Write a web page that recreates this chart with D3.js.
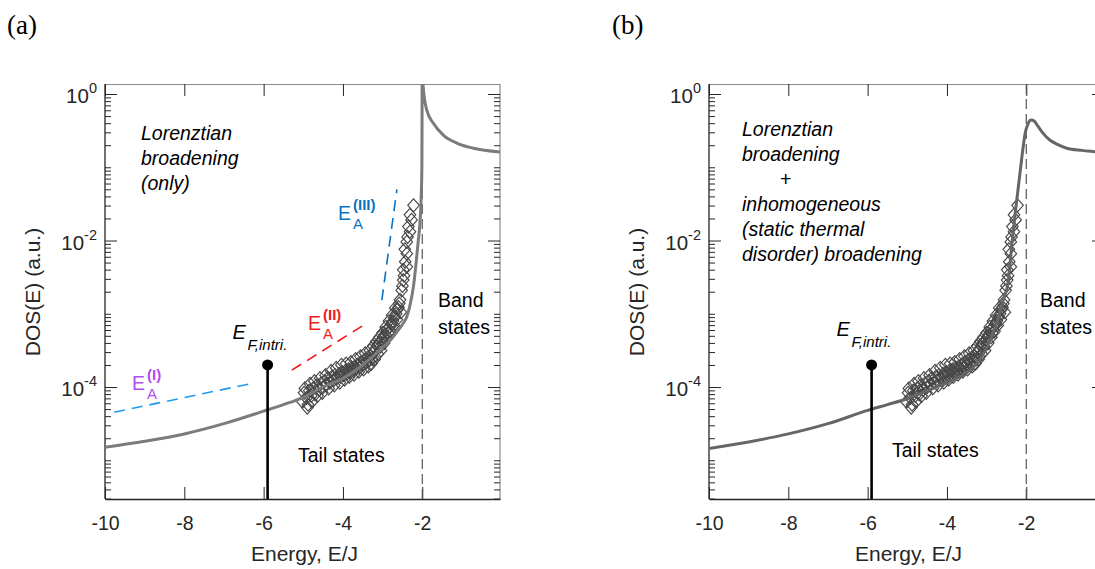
<!DOCTYPE html>
<html><head><meta charset="utf-8">
<script src="https://cdn.jsdelivr.net/npm/d3@7"></script>
<style>
body{margin:0;background:#fff;}
svg{display:block;font-family:"Liberation Sans",Arial,sans-serif;}
</style></head>
<body>
<svg id="c" width="1095" height="569"></svg>
<script>
// ---------------- data ----------------
const xTicks = [-10, -8, -6, -4, -2];
const xTickLabels = ["-10", "-8", "-6", "-4", "-2"];
const yMajorTicks = [1, 1e-2, 1e-4];
const yMajorLabels = ["0", "-2", "-4"];

// Panel (a): Lorentzian-only DOS curve
const curveA_E   = [-10, -9, -8, -7, -6, -5.5, -5, -4.5, -4, -3.5, -3, -2.8, -2.6, -2.48, -2.39, -2.3, -2.22, -2.14, -2.1, -2.06, -2.03, -2.01, -2.0,
                    -1.998, -1.97, -1.886, -1.72, -1.47, -1.13, -0.71, -0.04];
const curveA_DOS = [1.51e-5, 1.82e-5, 2.29e-5, 3.16e-5, 4.68e-5, 5.75e-5, 7.24e-5, 1.0e-4, 1.32e-4, 2.0e-4, 3.47e-4, 4.37e-4, 6.03e-4, 7.41e-4, 9.12e-4, 1.38e-3, 2.40e-3, 6.03e-3, 1.0e-2, 1.70e-2, 3.55e-2, 0.1, 3.16,
                    2.0, 1.135, 0.603, 0.398, 0.275, 0.214, 0.182, 0.162];

// Panel (b): Lorentzian + inhomogeneous broadening
const curveB_E   = [-10, -9, -8, -7, -6, -5.5, -5, -4.5, -4, -3.5, -3.25, -2.91, -2.75, -2.58, -2.45, -2.37, -2.28, -2.20, -2.11, -2.03, -1.95, -1.88, -1.80, -1.73, -1.60, -1.40, -1.20, -0.98, -0.6, -0.22, -0.04];
const curveB_DOS = [1.45e-5, 1.78e-5, 2.29e-5, 3.16e-5, 4.79e-5, 5.75e-5, 6.92e-5, 8.91e-5, 1.15e-4, 1.58e-4, 2.09e-4, 4.37e-4, 7.41e-4, 1.55e-3, 2.88e-3, 8.13e-3, 2.34e-2, 5.37e-2, 0.138, 0.288, 0.398, 0.442, 0.427, 0.380, 0.302, 0.234, 0.204, 0.182, 0.170, 0.162, 0.158];

// Simulated data points (diamonds), same in both panels
const pts_E = [-5.02, -4.98, -4.92, -4.88, -4.85, -4.80, -4.75, -4.70, -4.66, -4.60, -4.55, -4.50, -4.46, -4.42, -4.38, -4.33, -4.28, -4.24, -4.20, -4.15,
               -4.10, -4.06, -4.02, -3.98, -3.94, -3.90, -3.86, -3.82, -3.78, -3.74, -3.70, -3.66, -3.62, -3.58, -3.54, -3.50, -3.46, -3.42, -3.38, -3.34,
               -3.30, -3.26, -3.22, -3.18, -3.14, -3.10, -3.06, -3.02, -2.98, -2.94, -2.90, -2.86, -2.82, -2.78, -2.74, -2.70, -2.66, -2.62, -2.60, -2.56,
               -2.52, -2.48, -2.48, -2.39, -2.43, -2.39, -2.39, -2.31, -2.35, -2.27, -2.31, -2.22,
               -4.96, -4.90, -4.83, -4.78, -4.72, -4.64, -4.58, -4.52, -4.44, -4.36, -4.30, -4.22, -4.17, -4.08, -4.04, -3.96, -3.92, -3.84, -3.80, -3.72,
               -3.68, -3.60, -3.56, -3.48, -3.44, -3.36, -3.32, -3.28, -3.24, -3.20, -3.16, -3.12, -3.08, -3.04, -3.00, -2.96, -2.92, -2.88, -2.84, -2.80,
               -2.76, -2.72, -2.68, -2.64, -2.58, -2.54, -2.50, -2.46, -2.44, -2.37];
const pts_DOS = [6.31e-5, 8.32e-5, 7.08e-5, 5.75e-5, 8.91e-5, 7.59e-5, 9.55e-5, 7.94e-5, 1.05e-4, 9.12e-5, 1.12e-4, 1.00e-4, 1.20e-4, 1.07e-4, 1.32e-4, 1.15e-4, 1.38e-4, 1.23e-4, 1.45e-4, 1.32e-4,
                 1.51e-4, 1.38e-4, 1.58e-4, 1.45e-4, 1.66e-4, 1.51e-4, 1.74e-4, 1.58e-4, 1.82e-4, 1.66e-4, 1.91e-4, 1.78e-4, 2.04e-4, 1.86e-4, 2.19e-4, 2.00e-4, 2.34e-4, 2.14e-4, 2.51e-4, 2.29e-4,
                 2.63e-4, 2.40e-4, 3.02e-4, 3.31e-4, 3.63e-4, 3.98e-4, 3.55e-4, 4.37e-4, 4.79e-4, 5.25e-4, 6.03e-4, 5.50e-4, 6.61e-4, 7.24e-4, 7.94e-4, 8.91e-4, 1.00e-3, 1.15e-3, 1.23e-3, 1.55e-3,
                 2.09e-3, 2.88e-3, 3.98e-3, 4.37e-3, 5.13e-3, 6.61e-3, 9.55e-3, 1.32e-2, 1.55e-2, 1.91e-2, 2.24e-2, 3.02e-2,
                 9.55e-5, 5.25e-5, 1.10e-4, 6.31e-5, 1.20e-4, 7.59e-5, 1.32e-4, 8.32e-5, 1.45e-4, 9.55e-5, 1.66e-4, 1.05e-4, 1.82e-4, 1.15e-4, 2.00e-4, 1.26e-4, 2.09e-4, 1.38e-4, 2.19e-4, 1.48e-4,
                 2.40e-4, 1.62e-4, 2.63e-4, 1.74e-4, 2.88e-4, 1.91e-4, 3.16e-4, 2.09e-4, 3.63e-4, 2.40e-4, 4.17e-4, 2.82e-4, 4.79e-4, 3.16e-4, 5.50e-4, 3.98e-4, 6.61e-4, 4.79e-4, 7.94e-4, 5.75e-4,
                 9.55e-4, 6.92e-4, 1.20e-3, 8.32e-4, 1.38e-3, 1.05e-3, 2.40e-3, 3.31e-3, 7.59e-3, 1.12e-2];

// Fermi level marker
const EF_E = -5.9, EF_DOS = 2.0e-4;
const bandEdgeE = -2;

// Activation-energy fit lines in panel (a)
const fitI_E = [-9.77, -6.29],  fitI_DOS = [4.53e-5, 1.12e-4];
const fitII_E = [-5.29, -3.44], fitII_DOS = [1.70e-4, 7.21e-4];
const fitIII_E = [-3.02, -2.64], fitIII_DOS = [1.53e-3, 4.99e-2];

// ---------------- drawing ----------------
const svg = d3.select("#c");
svg.append("rect").attr("width",1095).attr("height",569).attr("fill","#fff");

const yTop = 84, yBot = 499;
const y = d3.scaleLog().domain([2.96e-6, 1.37]).range([yBot, yTop]);
const minorTicks = [];
for (let n = -6; n <= 0; n++) for (let k = 1; k <= 9; k++) {
  const v = k * Math.pow(10, n);
  if (v >= y.domain()[0] && v <= y.domain()[1] && !yMajorTicks.some(m => Math.abs(m - v) / v < 1e-9)) minorTicks.push(v);
}

function drawPanel(cfg) {
  const x = d3.scaleLinear().domain([-10, -0.04]).range([cfg.left, cfg.left + 395]);
  const g = svg.append("g");
  const cid = "clip" + cfg.id;
  svg.append("clipPath").attr("id", cid).append("rect")
    .attr("x", x.range()[0]).attr("y", yTop).attr("width", 395).attr("height", yBot - yTop);

  g.append("line").attr("x1", x.range()[0]).attr("x2", x.range()[1]).attr("y1", yTop + 0.5).attr("y2", yTop + 0.5).attr("stroke", "#8a8a8a").attr("stroke-width", 1.2);
  g.append("line").attr("x1", x.range()[1]).attr("x2", x.range()[1]).attr("y1", yTop).attr("y2", yBot).attr("stroke", "#8a8a8a").attr("stroke-width", 1.2);

  const topAx = g.append("g").attr("transform", `translate(0,${yTop})`)
    .call(d3.axisTop(x).tickValues(xTicks).tickSizeInner(-12).tickSizeOuter(0).tickFormat(""));
  topAx.select(".domain").remove();
  const rightAx = g.append("g").attr("transform", `translate(${x.range()[1]},0)`);
  rightAx.call(d3.axisRight(y).tickValues(yMajorTicks).tickSizeInner(-12).tickSizeOuter(0).tickFormat(""));
  rightAx.append("g").call(d3.axisRight(y).tickValues(minorTicks).tickSizeInner(-6).tickSizeOuter(0).tickFormat(""));
  rightAx.selectAll(".domain").remove();

  const bAx = g.append("g").attr("transform", `translate(0,${yBot})`)
    .call(d3.axisBottom(x).tickValues(xTicks).tickSizeInner(-12).tickSizeOuter(0).tickPadding(17)
      .tickFormat((d, i) => xTickLabels[i]));
  bAx.selectAll("text").attr("font-size", 19.5).attr("fill", "#262626").attr("font-family", "Liberation Sans, Arial");
  bAx.select(".domain").attr("stroke", "#262626").attr("stroke-width", 1.3);

  const lAx = g.append("g").attr("transform", `translate(${x.range()[0]},0)`);
  lAx.call(d3.axisLeft(y).tickValues(yMajorTicks).tickSizeInner(-12).tickSizeOuter(0).tickFormat(""));
  lAx.append("g").call(d3.axisLeft(y).tickValues(minorTicks).tickSizeInner(-6).tickSizeOuter(0).tickFormat(""));
  lAx.selectAll(".domain").remove();
  lAx.append("line").attr("y1", yTop).attr("y2", yBot).attr("stroke", "#262626").attr("stroke-width", 1.3);
  g.selectAll(".tick line").attr("stroke", "#262626");

  yMajorTicks.forEach((v, i) => {
    const t = g.append("text").attr("x", x.range()[0] - 8).attr("y", y(v) + 9)
      .attr("text-anchor", "end").attr("font-size", 20.5).attr("fill", "#262626");
    t.append("tspan").text("10");
    t.append("tspan").attr("dy", -10).attr("font-size", 14.5).text(yMajorLabels[i]);
  });

  g.append("text").attr("x", (x.range()[0] + x.range()[1]) / 2 + 2).attr("y", 561)
    .attr("text-anchor", "middle").attr("font-size", 21).attr("fill", "#262626").text("Energy, E/J");
  g.append("text").attr("transform", `translate(${x.range()[0] - 65},292) rotate(-90)`)
    .attr("text-anchor", "middle").attr("font-size", 21).attr("fill", "#262626").text("DOS(E) (a.u.)");

  svg.append("text").attr("x", cfg.labelX).attr("y", 34).attr("font-family", "Liberation Serif, Times New Roman, serif")
    .attr("font-size", 27).attr("fill", "#000").text(cfg.label);

  const plot = g.append("g").attr("clip-path", `url(#${cid})`);

  plot.append("line").attr("x1", x(bandEdgeE)).attr("x2", x(bandEdgeE)).attr("y1", yTop).attr("y2", yBot)
    .attr("stroke", "#555").attr("stroke-width", 1.2).attr("stroke-dasharray", "10,5");

  (cfg.fits || []).forEach(f => {
    plot.append("line").attr("x1", x(f.E[0])).attr("x2", x(f.E[1])).attr("y1", y(f.D[0])).attr("y2", y(f.D[1]))
      .attr("stroke", f.color).attr("stroke-width", 1.6).attr("stroke-dasharray", "11,7");
  });

  plot.append("g").selectAll("path").data(pts_E.map((e, i) => [e, pts_DOS[i]])).join("path")
    .attr("transform", d => `translate(${x(d[0])},${y(d[1])})`)
    .attr("d", "M0,-6.5L5.8,0L0,6.5L-5.8,0Z")
    .attr("fill", "none").attr("stroke", "#474747").attr("stroke-width", 1.15);

  const line = d3.line().x(d => x(d[0])).y(d => y(d[1])).curve(d3.curveMonotoneX);
  plot.append("path").datum(cfg.cE.map((e, i) => [e, cfg.cD[i]]))
    .attr("d", line).attr("fill", "none").attr("stroke", cfg.curveColor).attr("stroke-width", 3);

  plot.append("line").attr("x1", x(EF_E)).attr("x2", x(EF_E)).attr("y1", y(EF_DOS)).attr("y2", yBot)
    .attr("stroke", "#000").attr("stroke-width", 2.6);
  plot.append("circle").attr("cx", x(EF_E)).attr("cy", y(EF_DOS)).attr("r", 5.5).attr("fill", "#000");

  const L = cfg.left;
  g.append("text").attr("x", x(EF_E) - 35).attr("y", cfg.efY).attr("font-size", 20).attr("font-style", "italic").text("E");
  g.append("text").attr("x", x(EF_E) - 20).attr("y", cfg.efY + 11).attr("font-size", 15).attr("font-style", "italic").text("F,intri.");

  g.append("text").attr("x", L + cfg.tailX).attr("y", cfg.tailY).attr("font-size", 19.5).attr("fill", "#000").text("Tail states");
  g.append("text").attr("x", L + cfg.bandX).attr("y", 307).attr("font-size", 19.5).attr("fill", "#000").text("Band");
  g.append("text").attr("x", L + cfg.bandX).attr("y", 334).attr("font-size", 19.5).attr("fill", "#000").text("states");

  cfg.desc.forEach(d => {
    g.append("text").attr("x", L + d.dx).attr("y", d.y).attr("font-size", 19.5)
      .attr("font-style", d.italic === false ? "normal" : "italic").attr("fill", "#000").text(d.t);
  });

  (cfg.eaLabels || []).forEach(l => {
    g.append("text").attr("x", L + l.dx).attr("y", l.y).attr("font-size", 19.5).attr("fill", l.color).text("E");
    g.append("text").attr("x", L + l.dx + 15).attr("y", l.y - 10).attr("font-size", 15).attr("font-weight", "bold").attr("fill", l.color).text(l.sup);
    g.append("text").attr("x", L + l.dx + 15).attr("y", l.y + 9).attr("font-size", 15).attr("fill", l.color).text("A");
  });
}

drawPanel({
  id: "a", left: 105, label: "(a)", labelX: 7,
  cE: curveA_E, cD: curveA_DOS, curveColor: "#7b7b7b",
  efY: 339, tailX: 193, tailY: 462, bandX: 333,
  desc: [{t: "Lorenztian", dx: 36, y: 140}, {t: "broadening", dx: 36, y: 165}, {t: "(only)", dx: 36, y: 190}],
  fits: [
    {E: fitI_E, D: fitI_DOS, color: "#1e9bef"},
    {E: fitII_E, D: fitII_DOS, color: "#f01a1a"},
    {E: fitIII_E, D: fitIII_DOS, color: "#0a72c4"}
  ],
  eaLabels: [
    {dx: 27, y: 390, sup: "(I)", color: "#b04cf2"},
    {dx: 203, y: 330, sup: "(II)", color: "#f01a1a"},
    {dx: 233, y: 220, sup: "(III)", color: "#0a72c4"}
  ]
});

drawPanel({
  id: "b", left: 709, label: "(b)", labelX: 612,
  cE: curveB_E, cD: curveB_DOS, curveColor: "#666666",
  efY: 336, tailX: 183, tailY: 457, bandX: 331,
  desc: [{t: "Lorenztian", dx: 33, y: 136}, {t: "broadening", dx: 33, y: 161}, {t: "+", dx: 71, y: 186, italic: false},
         {t: "inhomogeneous", dx: 33, y: 211}, {t: "(static thermal", dx: 33, y: 236}, {t: "disorder) broadening", dx: 33, y: 261}]
});
</script>
</body></html>
